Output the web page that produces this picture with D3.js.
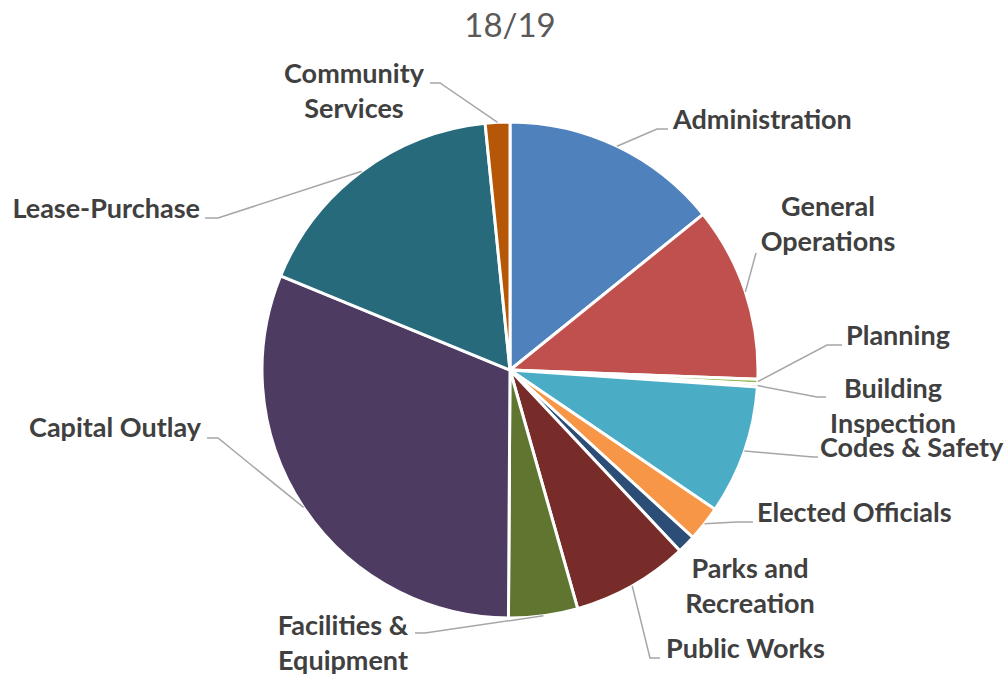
<!DOCTYPE html>
<html>
<head>
<meta charset="utf-8">
<script src="https://cdn.jsdelivr.net/npm/d3@7"></script>
<style>
  body { margin: 0; background: #fff; }
  text { font-family: Lato, "Open Sans", sans-serif; }
</style>
</head>
<body>
<script>
// 18/19 budget split (share of total, %)
var categories = ["Administration", "General Operations", "Planning", "Building Inspection",
    "Codes & Safety", "Elected Officials", "Parks and Recreation", "Public Works",
    "Facilities & Equipment", "Capital Outlay", "Lease-Purchase", "Community Services"];
var values = [14.2, 11.4, 0.3, 0.2, 8.4, 2.3, 1.2, 7.6, 4.5, 31.1, 17.2, 1.6];
var labelLines = [["Administration"], ["General", "Operations"], ["Planning"], ["Building", "Inspection"],
    ["Codes & Safety"], ["Elected Officials"], ["Parks and", "Recreation"], ["Public Works"],
    ["Facilities &", "Equipment"], ["Capital Outlay"], ["Lease-Purchase"], ["Community", "Services"]];
var title = "18/19";

var colors = ["#4f81bd", "#c0504d", "#9bbb59", "#8064a2", "#4bacc6", "#f79646",
    "#2c4d75", "#772c2a", "#5f7530", "#4d3b62", "#276a7c", "#b65708"];

// where each label sits, relative to the pie centre
// elbow: bend of leader line, tail: horizontal run, t: text anchor point
var layout = [
  {elbow: [147, -241], tail: 11, t: [163, -241], anchor: "start"},
  {elbow: [246, -117], tail: 0, t: [318, -154], anchor: "middle"},
  {elbow: [317, -25], tail: 15, t: [336, -25], anchor: "start"},
  {elbow: [307, 27], tail: 9, t: [383, 28], anchor: "middle"},
  {elbow: [303, 87], tail: 5, t: [310, 87], anchor: "start"},
  {elbow: [227, 152], tail: 16, t: [247, 152], anchor: "start"},
  {elbow: null, tail: 0, t: [240, 208], anchor: "middle"},
  {elbow: [140, 288], tail: 10, t: [156, 288], anchor: "start"},
  {elbow: [-85, 263], tail: -10, t: [-167, 265], anchor: "middle"},
  {elbow: [-292, 68], tail: -11, t: [-309, 67], anchor: "end"},
  {elbow: [-292, -152], tail: -13, t: [-310, -152], anchor: "end"},
  {elbow: [-70, -287], tail: -10, t: [-156, -287], anchor: "middle"}
];

var width = 1006, height = 674;
var cx = 510, cy = 370, radius = 248;
var lineH = 35;

var svg = d3.select("body").append("svg")
    .attr("width", width)
    .attr("height", height);

svg.append("text")
    .attr("x", cx)
    .attr("y", 37)
    .attr("text-anchor", "middle")
    .attr("font-size", 33)
    .attr("fill", "#595959")
    .text(title);

var pie = d3.pie().sort(null).value(function(d) { return d; });
var arcs = pie(values);

var arc = d3.arc().innerRadius(0).outerRadius(radius);
var edge = d3.arc().innerRadius(radius).outerRadius(radius);

var g = svg.append("g")
    .attr("transform", "translate(" + cx + "," + cy + ")");

g.append("g").selectAll("path")
    .data(arcs)
    .enter().append("path")
    .attr("d", arc)
    .attr("fill", function(d, i) { return colors[i]; })
    .attr("stroke", "#fff")
    .attr("stroke-width", 3)
    .attr("stroke-linejoin", "round");

// leader lines
var line = d3.line();
g.append("g").selectAll("path")
    .data(arcs.filter(function(d, i) { return layout[i].elbow; }))
    .enter().append("path")
    .attr("d", function(d) {
        var L = layout[d.index];
        var p = edge.centroid(d);
        return line([p, L.elbow, [L.elbow[0] + L.tail, L.elbow[1]]]);
    })
    .attr("fill", "none")
    .attr("stroke", "#a6a6a6")
    .attr("stroke-width", 1.5);

// labels
var labels = g.append("g").selectAll("text")
    .data(arcs)
    .enter().append("text")
    .attr("x", function(d) { return layout[d.index].t[0]; })
    .attr("y", function(d) { return layout[d.index].t[1]; })
    .attr("text-anchor", function(d) { return layout[d.index].anchor; })
    .attr("font-size", 27)
    .attr("font-weight", 700)
    .attr("fill", "#404040");

labels.selectAll("tspan")
    .data(function(d) { return labelLines[d.index].map(function(s) { return {s: s, d: d}; }); })
    .enter().append("tspan")
    .attr("x", function(o) { return layout[o.d.index].t[0]; })
    .attr("dy", function(o, j) { return j === 0 ? 0 : lineH; })
    .text(function(o) { return o.s; });
</script>
</body>
</html>
